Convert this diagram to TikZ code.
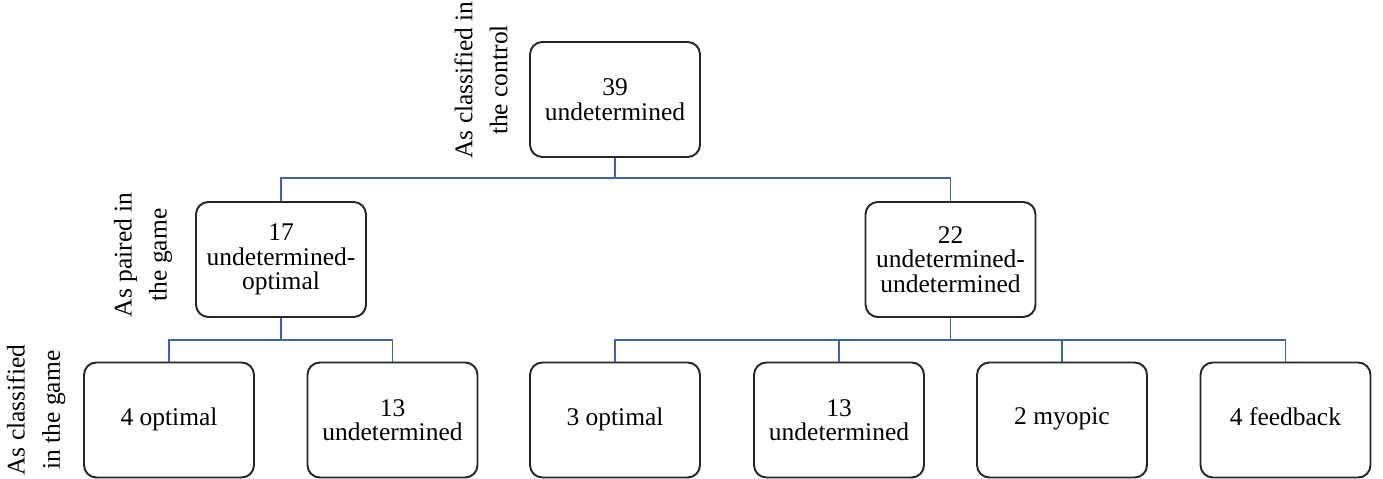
\documentclass[tikz,border=0pt]{standalone}
\usepackage{fontspec}
\setmainfont{Liberation Serif}
\definecolor{boxgray}{RGB}{38,38,38}
\definecolor{linkblue}{RGB}{62,98,172}
\tikzset{
  box/.style={draw=boxgray, line width=1.1pt, rounded corners=7pt,
    minimum width=3.4cm, minimum height=2.3cm, align=center,
    font=\fontsize{14.5}{14}\selectfont},
  link/.style={draw=linkblue, line width=0.9pt},
  levellabel/.style={rotate=90, align=center,
    font=\fontsize{14.5}{20}\selectfont}
}
\begin{document}
\begin{tikzpicture}[x=0.02cm,y=-0.02cm]
			\useasboundingbox (0,0) rectangle (1383,479);

			% top level
			\node[box] (top) at (615,99.5) {39\\undetermined};
			\node[levellabel] (lbltop) at (481,80) {As classified in\\the control};

			% pairs in the game
			\node[box] (pairopt) at (281,259.5) {17\\undetermined-\\optimal};
			\node[box] (pairund) at (950.5,259.5) {22\\undetermined-\\undetermined};
			\node[levellabel] (lblpair) at (143,255) {As paired in\\the game};

			% classified in the game
			\node[box] (optA) at (169,420) {\strut 4 optimal};
			\node[box] (undA) at (392.5,420) {13\\undetermined};
			\node[box] (optB) at (615,420) {\strut 3 optimal};
			\node[box] (undB) at (839,420) {13\\undetermined};
			\node[box] (myop) at (1062,420) {\strut 2 myopic};
			\node[box] (feed) at (1285.5,420) {\strut 4 feedback};
			\node[levellabel] (lblgame) at (36,410) {As classified\\in the game};

			% connectors
			\coordinate (jtop) at (615,178);
			\coordinate (jleft) at (281,340);
			\coordinate (jright) at (950.5,340);
			\draw[link] (top.south) -- (jtop) -| (pairopt.north);
			\draw[link] (jtop) -| (pairund.north);
			\draw[link] (pairopt.south) -- (jleft) -| (optA.north);
			\draw[link] (jleft) -| (undA.north);
			\draw[link] (pairund.south) -- (jright) -| (optB.north);
			\draw[link] (jright) -| (undB.north);
			\draw[link] (jright) -| (myop.north);
			\draw[link] (jright) -| (feed.north);
		\end{tikzpicture}
\end{document}
